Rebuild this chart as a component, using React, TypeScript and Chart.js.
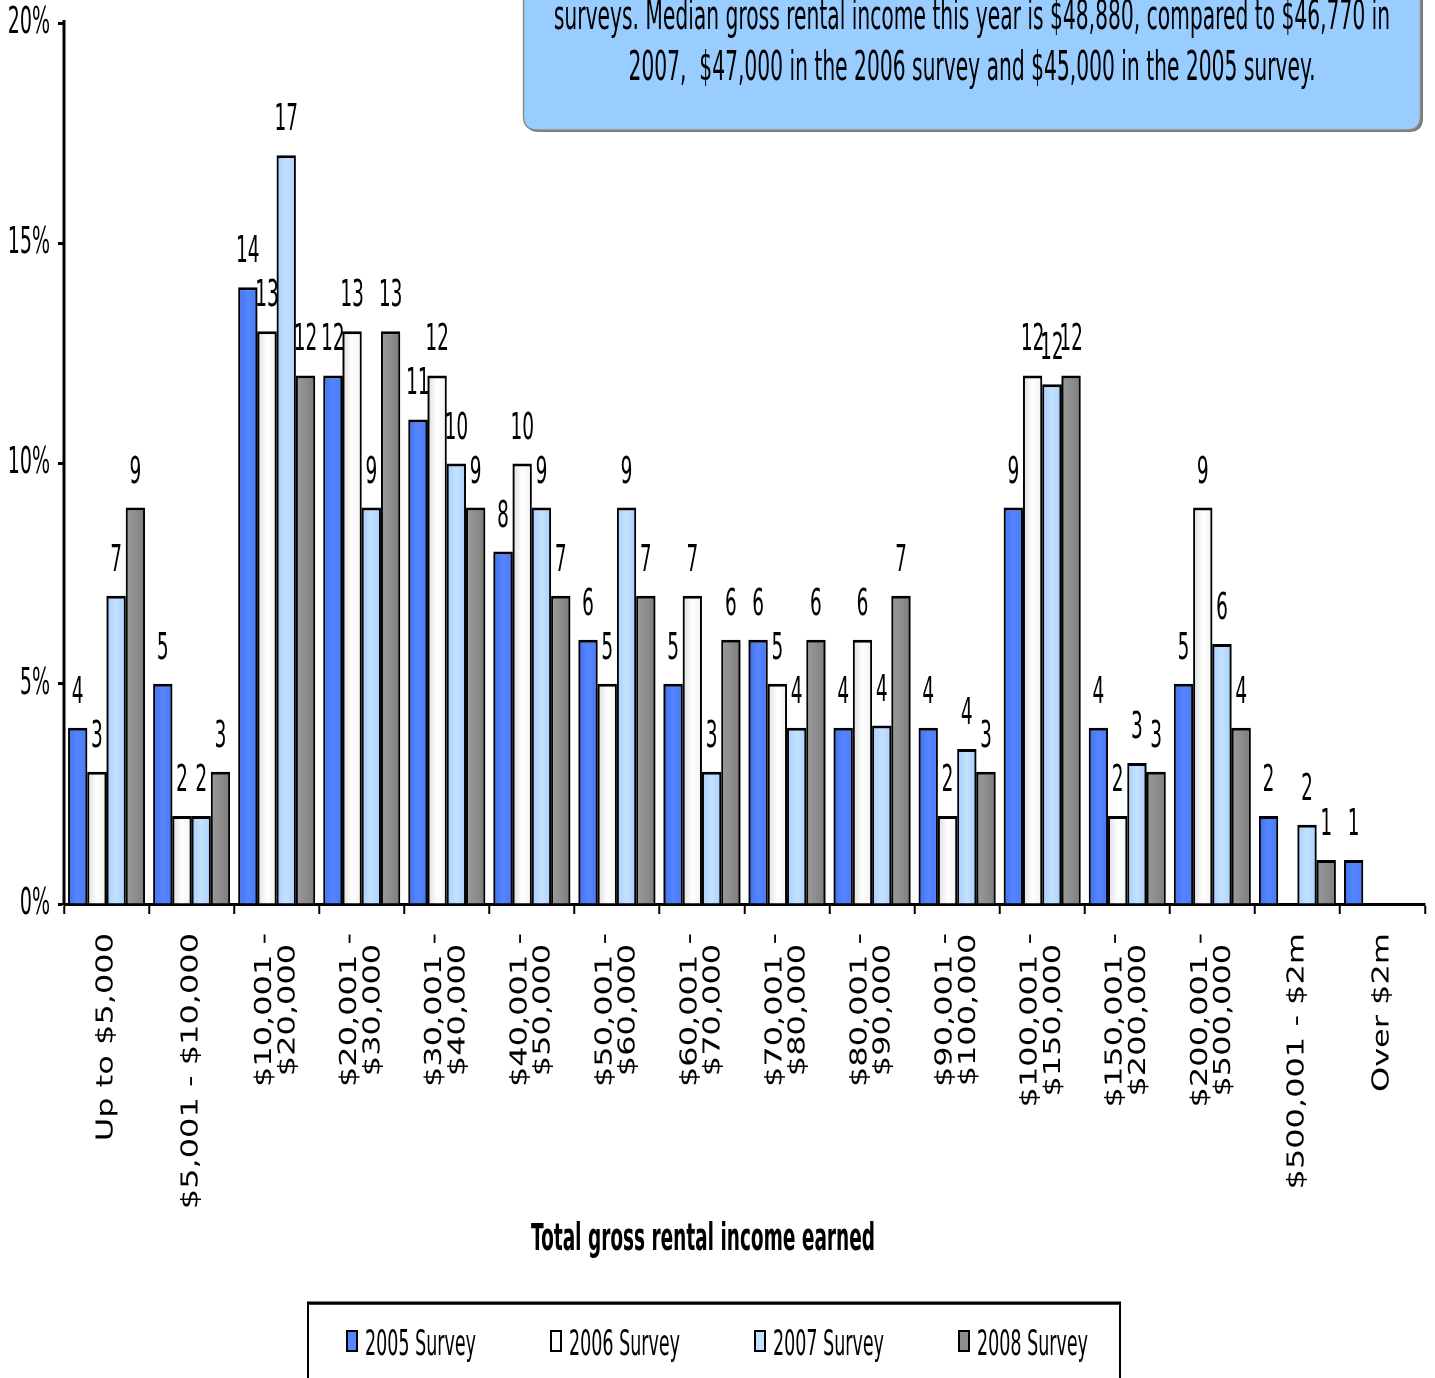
import React, { useEffect, useRef } from "react";
import { Chart, registerables } from "chart.js";

Chart.register(...registerables);

// Income bands (each entry is the label's wrapped lines)
const categories: string[][] = [
  ["Up to $5,000"],
  ["$5,001 - $10,000"],
  ["$10,001 -", "$20,000"],
  ["$20,001 -", "$30,000"],
  ["$30,001 -", "$40,000"],
  ["$40,001 -", "$50,000"],
  ["$50,001 -", "$60,000"],
  ["$60,001 -", "$70,000"],
  ["$70,001 -", "$80,000"],
  ["$80,001 -", "$90,000"],
  ["$90,001 -", "$100,000"],
  ["$100,001 -", "$150,000"],
  ["$150,001 -", "$200,000"],
  ["$200,001 -", "$500,000"],
  ["$500,001 - $2m"],
  ["Over $2m"],
];

// Share of respondents (%) per survey year
const survey2005 = [4, 5, 14, 12, 11, 8, 6, 5, 6, 4, 4, 9, 4, 5, 2, 1];
const survey2006 = [3, 2, 13, 13, 12, 10, 5, 7, 5, 6, 2, 12, 2, 9, null, null];
const survey2007 = [7, 2, 17, 9, 10, 9, 9, 3, 4, 4.05, 3.52, 11.8, 3.2, 5.9, 1.8, null];
const survey2008 = [9, 3, 12, 13, 9, 7, 7, 6, 6, 7, 3, 12, 3, 4, 1, null];

const seriesNames = ["2005 Survey", "2006 Survey", "2007 Survey", "2008 Survey"];
const yTicks = [0, 5, 10, 15, 20];

const axisTitle = "Total gross rental income earned";
const noteLines = [
  "surveys. Median gross rental income this year is $48,880, compared to $46,770 in",
  "2007,  $47,000 in the 2006 survey and $45,000 in the 2005 survey.",
];

// Fill shading per series: left edge, middle, right edge
const seriesShades = [
  ["#4271F0", "#5585FF", "#4A79FA"],
  ["#DEDEDE", "#FFFFFF", "#F2F2F2"],
  ["#A6CFFF", "#C4E2FF", "#A8D0FF"],
  ["#9A9A9A", "#8E8E8E", "#7C7C7C"],
];

// The canvas is drawn twice as wide as it is shown, giving the narrow lettering.
const VIEW_W = 1435;
const VIEW_H = 1378;
const SQUISH = 2;
const CANVAS_W = VIEW_W * SQUISH;
const CATEGORY_PCT = 0.905;
const FONT = "DejaVu Sans";

function barFill(shades: string[]) {
  return (c: any) => {
    const chart = c.chart;
    const xs = chart.scales && chart.scales.x;
    if (!xs || c.dataIndex == null || c.datasetIndex == null) return shades[1];
    const catW = xs.width / categories.length;
    const groupW = catW * CATEGORY_PCT;
    const barW = groupW / seriesNames.length;
    const left = xs.getPixelForValue(c.dataIndex) - groupW / 2 + c.datasetIndex * barW;
    if (!isFinite(left) || !isFinite(barW) || barW <= 0) return shades[1];
    const g = chart.ctx.createLinearGradient(left, 0, left + barW, 0);
    g.addColorStop(0, shades[0]);
    g.addColorStop(0.5, shades[1]);
    g.addColorStop(1, shades[2]);
    return g;
  };
}

// Rounded value above every bar
const valueLabels = {
  id: "valueLabels",
  afterDatasetsDraw(chart: any) {
    const ctx = chart.ctx;
    ctx.save();
    ctx.font = `37px "${FONT}"`;
    ctx.fillStyle = "#000";
    ctx.textAlign = "center";
    ctx.textBaseline = "alphabetic";
    chart.data.datasets.forEach((ds: any, di: number) => {
      const meta = chart.getDatasetMeta(di);
      meta.data.forEach((bar: any, i: number) => {
        const v = ds.data[i];
        if (v == null) return;
        ctx.fillText(String(Math.round(v)), bar.x, bar.y - 25);
      });
    });
    ctx.restore();
  },
};

// Vertical category labels under the x axis, lines centred within the block
const categoryLabels = {
  id: "categoryLabels",
  afterDraw(chart: any) {
    const ctx = chart.ctx;
    const xs = chart.scales.x;
    const top = chart.chartArea.bottom + 29;
    ctx.save();
    ctx.font = `32px "${FONT}"`;
    ctx.fillStyle = "#000";
    ctx.textAlign = "center";
    ctx.textBaseline = "middle";
    categories.forEach((lines, i) => {
      const cx = xs.getPixelForValue(i);
      const w = Math.max(...lines.map((l) => ctx.measureText(l).width));
      ctx.save();
      ctx.translate(cx, top);
      ctx.rotate(-Math.PI / 2);
      ctx.scale(1, 1.45);
      lines.forEach((line, k) => {
        ctx.fillText(line, -w / 2, (k - (lines.length - 1) / 2) * 32);
      });
      ctx.restore();
    });
    ctx.restore();
  },
};

function roundRect(ctx: any, x: number, y: number, w: number, h: number, r: number) {
  ctx.beginPath();
  ctx.moveTo(x + r, y);
  ctx.lineTo(x + w - r, y);
  ctx.quadraticCurveTo(x + w, y, x + w, y + r);
  ctx.lineTo(x + w, y + h - r);
  ctx.quadraticCurveTo(x + w, y + h, x + w - r, y + h);
  ctx.lineTo(x + r, y + h);
  ctx.quadraticCurveTo(x, y + h, x, y + h - r);
  ctx.lineTo(x, y + r);
  ctx.quadraticCurveTo(x, y, x + r, y);
  ctx.closePath();
}

// Axis title, legend box and the note panel
const decorations = {
  id: "decorations",
  afterDraw(chart: any) {
    const ctx = chart.ctx;
    const datasets = chart.data.datasets;

    // axis title
    ctx.save();
    ctx.font = `bold 37px "${FONT}"`;
    ctx.fillStyle = "#000";
    ctx.textAlign = "center";
    ctx.textBaseline = "alphabetic";
    ctx.fillText(axisTitle, 703 * SQUISH, 1250);
    ctx.restore();

    // legend frame and swatches
    ctx.save();
    ctx.scale(SQUISH, 1);
    ctx.strokeStyle = "#000";
    ctx.lineWidth = 2;
    ctx.strokeRect(308, 1303.5, 812, 200);
    ctx.fillStyle = "#000";
    ctx.fillRect(307, 1301.5, 814, 3);
    datasets.forEach((ds: any, i: number) => {
      const x = 347 + i * 204;
      ctx.fillStyle = seriesShades[i][1];
      ctx.fillRect(x, 1331, 10, 20);
      ctx.lineWidth = 2;
      ctx.strokeRect(x, 1331, 10, 20);
    });
    ctx.restore();

    ctx.save();
    ctx.font = `35px "${FONT}"`;
    ctx.fillStyle = "#000";
    ctx.textAlign = "left";
    ctx.textBaseline = "alphabetic";
    datasets.forEach((ds: any, i: number) => {
      ctx.fillText(ds.label, (365 + i * 204) * SQUISH, 1355);
    });
    ctx.restore();

    // note panel
    ctx.save();
    ctx.scale(SQUISH, 1);
    roundRect(ctx, 525, -40, 898, 172, 14);
    ctx.fillStyle = "#7A7A7A";
    ctx.fill();
    roundRect(ctx, 523.5, -40, 897, 170, 14);
    ctx.fillStyle = "#99CCFF";
    ctx.fill();
    ctx.strokeStyle = "#8C8C8C";
    ctx.lineWidth = 1.5;
    ctx.stroke();
    ctx.restore();

    ctx.save();
    ctx.font = `40.5px "${FONT}"`;
    ctx.fillStyle = "#000";
    ctx.textAlign = "center";
    ctx.textBaseline = "alphabetic";
    noteLines.forEach((line, k) => {
      ctx.fillText(line, 972 * SQUISH, 29 + k * 51);
    });
    ctx.restore();
  },
};

export default function App() {
  const canvasRef = useRef<HTMLCanvasElement | null>(null);

  useEffect(() => {
    const canvas = canvasRef.current;
    if (!canvas) return;
    const values = [survey2005, survey2006, survey2007, survey2008];
    const chart = new Chart(canvas, {
      type: "bar",
      data: {
        labels: categories.map((l) => l.join(" ")),
        datasets: values.map((data, i) => ({
          label: seriesNames[i],
          data,
          backgroundColor: barFill(seriesShades[i]),
          borderColor: "#000",
          borderWidth: { top: 3, left: 4, right: 4, bottom: 0 },
          borderSkipped: false,
          categoryPercentage: CATEGORY_PCT,
          barPercentage: 1,
        })),
      },
      options: {
        responsive: false,
        maintainAspectRatio: false,
        devicePixelRatio: 1,
        animation: false,
        events: [],
        layout: { padding: { top: 23, right: 20, bottom: 0, left: 0 } },
        plugins: {
          legend: { display: false },
          tooltip: { enabled: false },
          title: { display: false },
        },
        scales: {
          x: {
            type: "category",
            offset: true,
            grid: {
              offset: true,
              display: true,
              drawOnChartArea: false,
              drawTicks: true,
              tickLength: 10,
              tickWidth: 4,
              tickColor: "#000",
              color: "#000",
            },
            border: { display: true, color: "#000", width: 3 },
            ticks: { display: false },
            afterFit(scale: any) {
              scale.height = VIEW_H - 904;
            },
          },
          y: {
            min: 0,
            max: 20,
            afterBuildTicks(scale: any) {
              scale.ticks = yTicks.map((v) => ({ value: v }));
            },
            ticks: {
              callback: (v: any) => `${v}%`,
              color: "#000",
              padding: 16,
              font: { family: FONT, size: 38, lineHeight: 1 },
            },
            grid: {
              display: true,
              drawOnChartArea: false,
              drawTicks: true,
              tickLength: 12,
              tickWidth: 3,
              tickColor: "#000",
              color: "#000",
            },
            border: { display: true, color: "#000", width: 6 },
            afterFit(scale: any) {
              scale.width = 128;
              scale.paddingTop = 0;
              scale.paddingBottom = 0;
            },
          },
        },
      },
      plugins: [valueLabels, categoryLabels, decorations],
    } as any);
    return () => chart.destroy();
  }, []);

  return (
    <div
      style={{
        position: "fixed",
        left: 0,
        top: 0,
        width: VIEW_W,
        height: VIEW_H,
        overflow: "hidden",
        background: "#fff",
      }}
    >
      <canvas
        ref={canvasRef}
        width={CANVAS_W}
        height={VIEW_H}
        style={{ width: `${VIEW_W}px`, height: `${VIEW_H}px`, display: "block" }}
      />
    </div>
  );
}
